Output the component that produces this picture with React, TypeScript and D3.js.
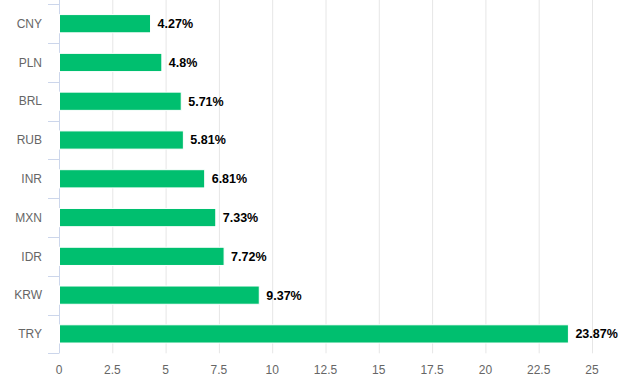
import React from 'react';
import * as d3 from 'd3';

const currencies = ['CNY', 'PLN', 'BRL', 'RUB', 'INR', 'MXN', 'IDR', 'KRW', 'TRY'];
const changes = [4.27, 4.8, 5.71, 5.81, 6.81, 7.33, 7.72, 9.37, 23.87];
const xTicks = [0, 2.5, 5, 7.5, 10, 12.5, 15, 17.5, 20, 22.5, 25];

const font = '"Liberation Sans", Arial, sans-serif';

export default function App() {
  const width = 620, height = 391;
  const left = 59, right = 592, top = 4.3, bottom = 353.3;

  const x = d3.scaleLinear().domain([0, 25]).range([left, right]);
  const y = d3.scaleBand().domain(currencies).range([top, bottom]).paddingInner(0.53).paddingOuter(0.265);
  const band = d3.scaleBand().domain(currencies).range([top, bottom]);

  const bounds = [...currencies.map(c => band(c) as number), bottom];

  return (
    <svg width={width} height={height} style={{ position: 'absolute', left: 0, top: 0 }}>
      {xTicks.map(t => (
        <line key={t} x1={x(t) + 0.5} x2={x(t) + 0.5} y1={0} y2={bottom} stroke="#e6e6e6" strokeWidth={1} />
      ))}
      <line x1={left + 0.5} x2={left + 0.5} y1={0} y2={bottom} stroke="#ccd6eb" />
      {bounds.map((b, i) => (
        <line key={i} x1={48} x2={left} y1={Math.round(b) + 0.5} y2={Math.round(b) + 0.5} stroke="#ccd6eb" />
      ))}
      {currencies.map((c, i) => (
        <g key={c}>
          <rect x={x(0) + 0.5} y={y(c)} width={x(changes[i]) - x(0)} height={y.bandwidth()}
            fill="#00bf6f" stroke="#ffffff" strokeWidth={1} />
          <text x={42} y={(band(c) as number) + band.bandwidth() / 2} dy="0.35em" textAnchor="end"
            fontFamily={font} fontSize={12} fill="#666666">{c}</text>
          <text x={x(changes[i]) + 7.5} y={(band(c) as number) + band.bandwidth() / 2} dy="0.35em"
            fontFamily={font} fontSize={12.5} fontWeight="bold" fill="#000000">{changes[i]}%</text>
        </g>
      ))}
      {xTicks.map(t => (
        <text key={t} x={x(t)} y={374} textAnchor="middle" fontFamily={font} fontSize={12} fill="#666666">{t}</text>
      ))}
    </svg>
  );
}
